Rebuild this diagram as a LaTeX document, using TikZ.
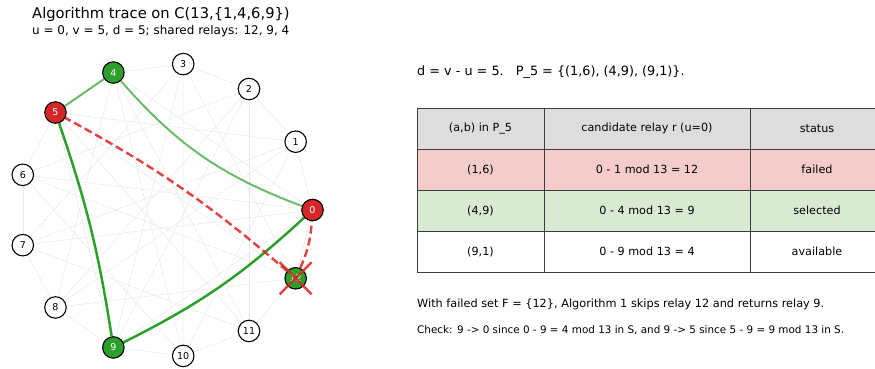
\documentclass[tikz,border=0pt]{standalone}
\usepackage{fontspec}
\setmainfont{DejaVu Sans}
\usetikzlibrary{calc,backgrounds}
\definecolor{tred}{RGB}{214,39,40}
\definecolor{tgreen}{RGB}{44,160,44}
\definecolor{hdr}{RGB}{221,221,221}
\definecolor{rowred}{RGB}{244,204,204}
\definecolor{rowgreen}{RGB}{217,234,211}
\definecolor{edgegray}{RGB}{234,234,234}
\definecolor{tline}{RGB}{60,60,60}
\tikzset{
  vtx/.style={circle, draw=black, line width=1.1pt, minimum size=21.5pt, inner sep=0pt, font=\fontsize{9.5}{11}\selectfont},
  vwhite/.style={vtx, fill=white, text=black},
  vred/.style={vtx, fill=tred, text=white},
  vgreen/.style={vtx, fill=tgreen, text=white},
  gedge/.style={draw=edgegray, line width=0.55pt},
  lgreen/.style={draw=tgreen, draw opacity=0.7, line width=2pt},
  dgreen/.style={draw=tgreen, line width=2.5pt},
  rdash/.style={draw=tred, draw opacity=0.85, line width=2.5pt, dash pattern=on 8pt off 4pt},
  xmark/.style={draw=tred, draw opacity=0.85, line width=2.5pt},
  cell/.style={draw=tline, line width=0.8pt, minimum height=41pt, inner sep=0pt, font=\fontsize{11.2}{13}\selectfont},
  txt/.style={inner sep=0pt, anchor=base west}
}
\begin{document}
\begin{tikzpicture}[x=1pt,y=1pt]
\useasboundingbox (0,0) rectangle (875,369);
\clip (0,0) rectangle (875,369);
% titles
\node[txt, font=\fontsize{14.7}{17}\selectfont] (title) at (32,350) {Algorithm trace on C(13,\{1,4,6,9\})};
\node[txt, font=\fontsize{12}{14}\selectfont] (sub) at (32,334) {u = 0, v = 5, d = 5; shared relays: 12, 9, 4};
% vertices
\foreach \k/\s in {0/vred,1/vwhite,2/vwhite,3/vwhite,4/vgreen,5/vred,6/vwhite,7/vwhite,8/vwhite,9/vgreen,10/vwhite,11/vwhite,12/vgreen}
  \node[\s] (n\k) at ($(165.5,159)+({360*\k/13}:147)$) {\k};
% edges
\begin{scope}[on background layer]
\foreach \k in {0,...,12} {
  \pgfmathtruncatemacro\ka{mod(\k+1,13)}
  \pgfmathtruncatemacro\kb{mod(\k+4,13)}
  \pgfmathtruncatemacro\kc{mod(\k+6,13)}
  \draw[gedge] (n\k) -- (n\ka);
  \draw[gedge] (n\k) -- (n\kb);
  \draw[gedge] (n\k) -- (n\kc);
}
\draw[lgreen] (n4) -- (n5);
\draw[lgreen] (n4) to[bend right=14] (n0);
\draw[dgreen] (n9) to[bend right=5] (n5);
\draw[dgreen] (n9) to[bend right=8] (n0);
\draw[rdash] (n12) to[bend right=6] (n5);
\draw[rdash] (n12) to[bend right=10] (n0);
\end{scope}
\draw[xmark] ($(n12)+(-16,-16)$) -- ($(n12)+(16,16)$);
\draw[xmark] ($(n12)+(-16,16)$) -- ($(n12)+(16,-16)$);
% right text
\node[txt, font=\fontsize{12.8}{15}\selectfont] (dline) at (417,293) {d = v - u = 5.\ \ \ P\_5 = \{(1,6), (4,9), (9,1)\}.};
% table
\node[cell, fill=hdr, minimum width=127pt] (h1) at (480.5,240.5) {(a,b) in P\_5};
\node[cell, fill=hdr, minimum width=206pt] (h2) at (647,240.5) {candidate relay r (u=0)};
\node[cell, fill=hdr, minimum width=134pt] (h3) at (817,240.5) {status};
\node[cell, fill=rowred, minimum width=127pt] (a1) at (480.5,199.5) {(1,6)};
\node[cell, fill=rowred, minimum width=206pt] (a2) at (647,199.5) {0 - 1 mod 13 = 12};
\node[cell, fill=rowred, minimum width=134pt] (a3) at (817,199.5) {failed};
\node[cell, fill=rowgreen, minimum width=127pt] (b1) at (480.5,158.5) {(4,9)};
\node[cell, fill=rowgreen, minimum width=206pt] (b2) at (647,158.5) {0 - 4 mod 13 = 9};
\node[cell, fill=rowgreen, minimum width=134pt] (b3) at (817,158.5) {selected};
\node[cell, fill=white, minimum width=127pt] (c1) at (480.5,117.5) {(9,1)};
\node[cell, fill=white, minimum width=206pt] (c2) at (647,117.5) {0 - 9 mod 13 = 4};
\node[cell, fill=white, minimum width=134pt] (c3) at (817,117.5) {available};
% bottom text
\node[txt, font=\fontsize{11.3}{14}\selectfont] (fail) at (417,61.3) {With failed set F = \{12\}, Algorithm 1 skips relay 12 and returns relay 9.};
\node[txt, font=\fontsize{10.4}{12}\selectfont] (check) at (417,35.7) {Check: 9 -> 0 since 0 - 9 = 4 mod 13 in S, and 9 -> 5 since 5 - 9 = 9 mod 13 in S.};
\end{tikzpicture}
\end{document}
